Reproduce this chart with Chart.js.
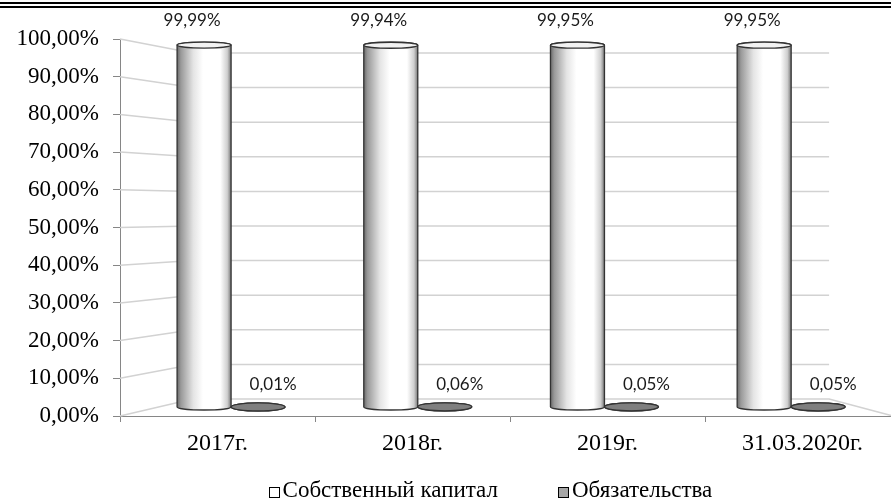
<!DOCTYPE html>
<html>
<head>
<meta charset="utf-8">
<script src="https://cdn.jsdelivr.net/npm/chart.js@4"></script>
<style>
  html, body { margin: 0; padding: 0; background: #fff; overflow: hidden; width: 891px; height: 502px; }
  #wrap { position: relative; width: 891px; height: 502px; }
  canvas { position: absolute; left: 0; top: 0; }
  .rule { position: absolute; left: 0; width: 891px; background: #000; }
  .leg { position: absolute; top: 477px; font: 23px "Liberation Serif", serif; color: #000; white-space: nowrap; line-height: 26px; }
  .sw { display: inline-block; width: 9px; height: 9px; border: 1.5px solid #000; margin-right: 3px; vertical-align: -1px; }
</style>
</head>
<body>
<div id="wrap">
  <div class="rule" style="top:2px;height:1.5px"></div>
  <div class="rule" style="top:6px;height:2px"></div>
  <canvas id="chart" width="900" height="502"></canvas>
  <div class="leg" id="leg0" style="right:393px"><span class="sw" style="background:#fff"></span>Собственный капитал</div>
  <div class="leg" id="leg1" style="left:558px"><span class="sw" style="background:#a6a6a6"></span>Обязательства</div>
</div>
<script>
const categories = ['2017г.', '2018г.', '2019г.', '31.03.2020г.'];
const equityShare = [99.99, 99.94, 99.95, 99.95];
const liabilitiesShare = [0.01, 0.06, 0.05, 0.05];
const seriesNames = ['Собственный капитал', 'Обязательства'];

const fmt = v => v.toFixed(2).replace('.', ',') + '%';

// body gradients for the two series
const bodyStops = [
  [[0, '#6a6a6a'], [0.07, '#999999'], [0.3, '#e4e4e4'], [0.48, '#ffffff'], [0.8, '#ffffff'], [0.93, '#cfcfcf'], [1, '#777777']],
  [[0, '#5c5c5c'], [0.5, '#8c8c8c'], [1, '#5c5c5c']]
];
const capFill = ['#f2f2f2', '#7f7f7f'];

function drawCylinder(ctx, x, top, base, w, ds) {
  const l = x - w / 2, r = x + w / 2, rx = w / 2, ry = ds === 0 ? 3 : 4;
  const g = ctx.createLinearGradient(l, 0, r, 0);
  bodyStops[ds].forEach(s => g.addColorStop(s[0], s[1]));
  ctx.save();
  ctx.beginPath();
  ctx.moveTo(l, top);
  ctx.lineTo(l, base);
  ctx.ellipse(x, base, rx, ry, 0, Math.PI, 0, true);
  ctx.lineTo(r, top);
  ctx.ellipse(x, top, rx, ry, 0, 0, Math.PI, true);
  ctx.closePath();
  ctx.fillStyle = g;
  ctx.fill();
  ctx.strokeStyle = '#333333';
  ctx.lineWidth = 1.3;
  ctx.stroke();
  ctx.beginPath();
  ctx.ellipse(x, top, rx, ry, 0, 0, Math.PI * 2);
  ctx.fillStyle = capFill[ds];
  ctx.fill();
  ctx.stroke();
  ctx.restore();
}

const walls = {
  id: 'walls',
  beforeDatasetsDraw(chart) {
    const { ctx, chartArea, scales } = chart;
    const y = scales.y, yB = scales.yBack, xB = scales.xBack;
    const bx0 = xB.getPixelForValue(0), bx1 = xB.getPixelForValue(categories.length);
    ctx.save();
    ctx.strokeStyle = '#d2d2d2';
    ctx.lineWidth = 1.5;
    y.ticks.forEach(t => {
      const fy = y.getPixelForValue(t.value), by = yB.getPixelForValue(t.value);
      ctx.beginPath();
      ctx.moveTo(chartArea.left, fy);
      ctx.lineTo(bx0, by);
      ctx.lineTo(bx1, by);
      if (t.value === 0) ctx.lineTo(chartArea.right - 7, fy);
      ctx.stroke();
    });
    ctx.restore();
  },
  afterDatasetsDraw(chart) {
    const ctx = chart.ctx;
    chart.data.datasets.forEach((d, di) => {
      chart.getDatasetMeta(di).data.forEach((el, i) => {
        const p = el.getProps(['x', 'y', 'base', 'width'], true);
        drawCylinder(ctx, p.x, p.y, p.base, p.width, di);
      });
    });
    ctx.save();
    ctx.font = '17px Lato, "Open Sans", sans-serif';
    ctx.fillStyle = '#1a1a1a';
    ctx.textAlign = 'center';
    ctx.textBaseline = 'middle';
    chart.data.datasets.forEach((d, di) => {
      chart.getDatasetMeta(di).data.forEach((el, i) => {
        const p = el.getProps(['x', 'y', 'base'], true);
        const v = d.data[i].y;
        if (di === 0) ctx.fillText(fmt(v), p.x - 12, p.y - 25);
        else ctx.fillText(fmt(v), p.x + 15, p.base - 22);
      });
    });
    ctx.restore();
  }
};

const axisFont = { family: 'Liberation Serif', size: 23 };

new Chart(document.getElementById('chart'), {
  type: 'bar',
  data: {
    datasets: [
      {
        label: seriesNames[0],
        data: equityShare.map((v, i) => ({ x: i, y: v })),
        xAxisID: 'xb', yAxisID: 'yb',
        backgroundColor: 'rgba(0,0,0,0)', borderWidth: 0, barThickness: 54
      },
      {
        label: seriesNames[1],
        data: liabilitiesShare.map((v, i) => ({ x: i, y: v })),
        xAxisID: 'xb', yAxisID: 'yb',
        backgroundColor: 'rgba(0,0,0,0)', borderWidth: 0, barThickness: 54
      }
    ]
  },
  options: {
    responsive: false,
    animation: false,
    layout: { padding: { top: 39, left: 0, right: 0, bottom: 0 } },
    plugins: { legend: { display: false }, tooltip: { enabled: false } },
    scales: {
      x: {
        type: 'category', labels: categories, position: 'bottom', offset: true,
        grid: { offset: true, drawOnChartArea: false, tickLength: 6, color: '#868686' },
        border: { color: '#868686' },
        ticks: { font: { family: 'Liberation Serif', size: 24 }, color: '#000', padding: 7, maxRotation: 0 },
        afterFit(s) { s.height = 86; }
      },
      y: {
        type: 'linear', position: 'left', min: 0, max: 100,
        ticks: { stepSize: 10, callback: fmt, font: axisFont, color: '#000', padding: 14 },
        grid: { drawOnChartArea: false, tickLength: 7, color: '#868686' },
        border: { color: '#868686' },
        afterFit(s) { s.width = 120; }
      },
      xb: { type: 'linear', axis: 'x', display: false, offset: false, min: -0.595, max: 3.583 },
      yb: { type: 'linear', axis: 'y', display: false, min: -2.486, max: 101.66 },
      xBack: { type: 'linear', axis: 'x', display: false, min: -0.1844, max: 4.1732 },
      yBack: { type: 'linear', axis: 'y', display: false, min: -4.91, max: 104.05 }
    }
  },
  plugins: [walls]
});
</script>
</body>
</html>
